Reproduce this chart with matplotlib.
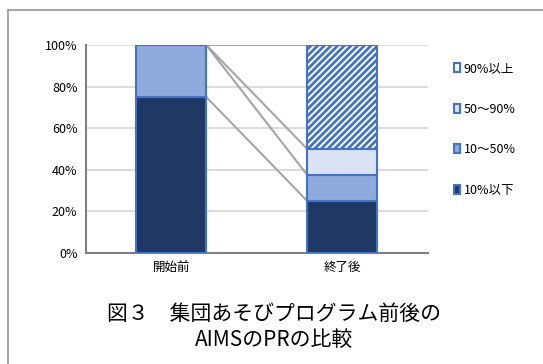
import matplotlib.pyplot as plt
from matplotlib.patches import Rectangle
from matplotlib.lines import Line2D
import numpy as np

plt.rcParams['font.family'] = ['Noto Sans CJK JP', 'DejaVu Sans']
plt.rcParams['hatch.linewidth'] = 1.4

categories = ["開始前", "終了後"]
series_names = ["10%以下", "10～50%", "50～90%", "90%以上"]
values = {
    "10%以下": [75.0, 25.0],
    "10～50%": [25.0, 12.5],
    "50～90%": [0.0, 12.5],
    "90%以上": [0.0, 50.0],
}
yticks = [0, 20, 40, 60, 80, 100]
title = "図３　集団あそびプログラム前後の\nAIMSのPRの比較"

BLUE = "#4472C4"
colors = {
    "10%以下": "#203864",
    "10～50%": "#8FAADC",
    "50～90%": "#DAE3F3",
    "90%以上": BLUE,
}

fig = plt.figure(figsize=(5.43, 3.64), dpi=100)
ax = fig.add_axes([0.158, 0.305, 0.630, 0.571])

x = np.arange(len(categories))
w = 0.41
bottom = np.zeros(len(categories))
tops = []
for name in series_names:
    v = np.array(values[name])
    if name == "90%以上":
        ax.bar(x, v, w, bottom=bottom, color=BLUE, edgecolor="white",
               hatch="/////", linewidth=0, zorder=3)
        ax.bar(x, v, w, bottom=bottom, fill=False, edgecolor=BLUE,
               linewidth=1.5, zorder=4)
    else:
        ax.bar(x, v, w, bottom=bottom, color=colors[name], edgecolor=BLUE,
               linewidth=1.5, zorder=3)
    bottom = bottom + v
    tops.append(bottom.copy())

# series lines between the bars
for t in tops:
    ax.plot([x[0] + w / 2, x[1] - w / 2], [t[0], t[1]], color="#A5A5A5",
            linewidth=1.5, zorder=2)

ax.set_xlim(-0.5, 1.5)
ax.set_ylim(0, 100)
ax.set_yticks(yticks)
ax.set_yticklabels([f"{t}%" for t in yticks], fontsize=9)
ax.set_xticks(x)
ax.set_xticklabels(categories, fontsize=9)
ax.tick_params(length=0, pad=6)
ax.grid(axis="y", color="#D9D9D9", linewidth=1.3, zorder=0)
ax.set_axisbelow(True)
for s in ["top", "right"]:
    ax.spines[s].set_visible(False)
for s in ["left", "bottom"]:
    ax.spines[s].set_color("#7F7F7F")
    ax.spines[s].set_linewidth(1.5)

handles = [Rectangle((0, 0), 1, 1, facecolor=colors[n] if n != "90%以上" else "white",
                     edgecolor=BLUE, linewidth=1.5) for n in series_names[::-1]]
leg = fig.legend(handles, series_names[::-1], loc="upper left",
                 bbox_to_anchor=(0.815, 0.86), frameon=False, fontsize=9,
                 handlelength=0.5, handleheight=0.7, handletextpad=0.3,
                 labelspacing=2.2)

fig.text(0.505, 0.102, title, ha="center", va="center", fontsize=15,
         linespacing=1.22)

# chart area border
fig.add_artist(Line2D([0.015, 1.0], [0.972, 0.972], color="#A6A6A6",
                      linewidth=1.5, transform=fig.transFigure))
fig.add_artist(Line2D([0.015, 0.015], [0.0, 0.972], color="#A6A6A6",
                      linewidth=1.5, transform=fig.transFigure))

fig.savefig("out.png", dpi=100)
